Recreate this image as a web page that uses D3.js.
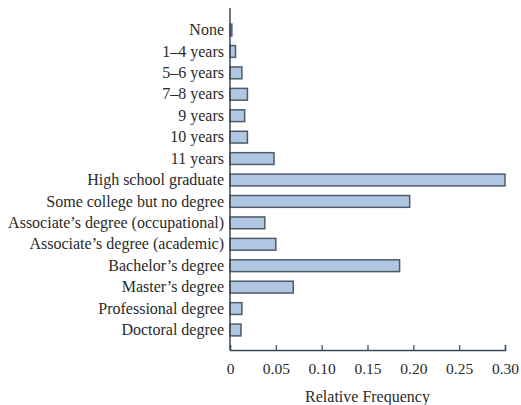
<!DOCTYPE html>
<html>
<head>
<meta charset="utf-8">
<script src="https://cdn.jsdelivr.net/npm/d3@7/dist/d3.min.js"></script>
<style>
html,body{margin:0;padding:0;background:#fff;}
svg{display:block;}
text{font-family:"Liberation Serif","DejaVu Serif",serif;fill:#2a2a2a;}
</style>
</head>
<body>
<script>
const categories = ["None","1–4 years","5–6 years","7–8 years","9 years","10 years","11 years",
  "High school graduate","Some college but no degree","Associate’s degree (occupational)",
  "Associate’s degree (academic)","Bachelor’s degree","Master’s degree","Professional degree","Doctoral degree"];
const values = [0.002,0.006,0.013,0.019,0.016,0.019,0.048,0.300,0.196,0.038,0.050,0.185,0.069,0.013,0.012];
const xTicks = [0,0.05,0.10,0.15,0.20,0.25,0.30];
const xTickLabels = ["0","0.05","0.10","0.15","0.20","0.25","0.30"];
const xTitle = "Relative Frequency";

const W = 521, H = 405;
const svg = d3.select("body").append("svg").attr("width",W).attr("height",H);

const x = d3.scaleLinear().domain([0,0.30]).range([230,505]);
const y = d3.scaleBand().domain(categories).range([19.3,340.7]).paddingInner(0.45).paddingOuter(0.225);

// bars
svg.append("g").selectAll("rect").data(values).join("rect")
  .attr("x", x(0))
  .attr("y", (d,i)=>y(categories[i]))
  .attr("width", d=>x(d)-x(0))
  .attr("height", y.bandwidth())
  .attr("fill","#b0c6e2")
  .attr("stroke","#4f5b68")
  .attr("stroke-width",1.5);

// y axis
const yAxis = d3.axisLeft(y).tickSize(0).tickPadding(6);
const gy = svg.append("g").attr("transform",`translate(${x(0)},0)`).call(yAxis);
gy.select(".domain").remove();
gy.selectAll("text").style("font-size","16px").style("font-family",'"Liberation Serif",serif').attr("fill","#2a2a2a");
svg.append("line").attr("x1",x(0)).attr("x2",x(0)).attr("y1",8).attr("y2",350)
  .attr("stroke","#3a4a5a").attr("stroke-width",1.5);

// x axis
const xAxis = d3.axisBottom(x).tickValues(xTicks).tickFormat((d,i)=>xTickLabels[i]).tickSize(-5).tickPadding(13);
const gx = svg.append("g").attr("transform","translate(0,350)").call(xAxis);
gx.select(".domain").attr("stroke","#3a4a5a").attr("stroke-width",1.5);
gx.selectAll(".tick line").attr("stroke","#3a4a5a").attr("stroke-width",1.2);
gx.selectAll("text").style("font-size","15.5px").style("font-family",'"Liberation Serif",serif').attr("fill","#2a2a2a");

svg.append("text").attr("x",(x(0)+x(0.30))/2).attr("y",402).attr("text-anchor","middle")
  .style("font-size","16px").text(xTitle);
</script>
</body>
</html>
